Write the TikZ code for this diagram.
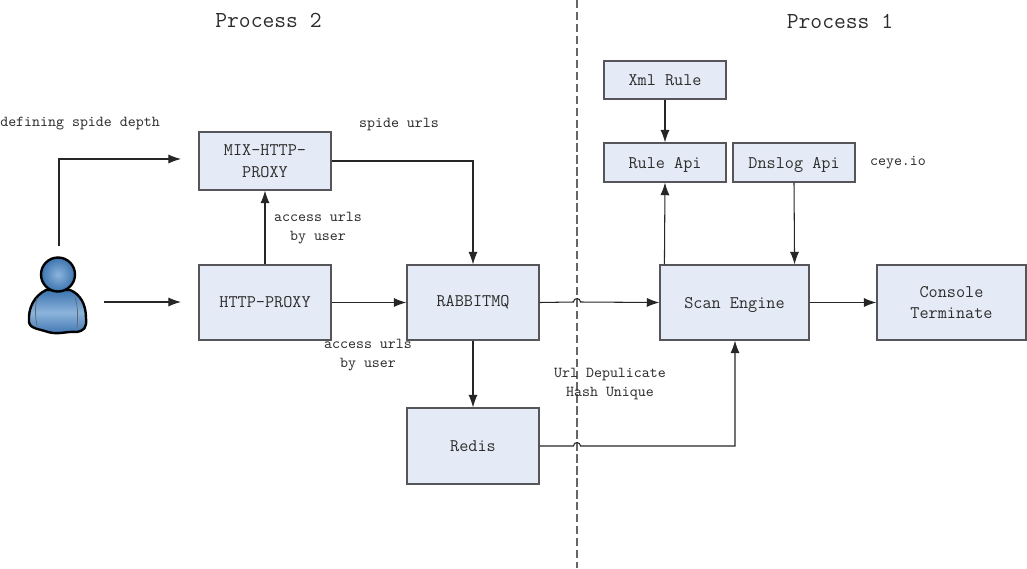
\documentclass[tikz,border=0pt]{standalone}
\usepackage{tikz}
\usetikzlibrary{arrows.meta,positioning,calc}
\definecolor{boxfill}{RGB}{229,235,246}
\definecolor{boxline}{RGB}{85,85,90}
\definecolor{txtgray}{RGB}{45,45,45}
\definecolor{userlight}{RGB}{140,180,220}
\definecolor{usermid}{RGB}{100,150,205}
\definecolor{userdark}{RGB}{60,115,175}
\tikzset{
  block/.style={draw=boxline,line width=0.8pt,fill=boxfill,inner sep=0pt,align=center,text=txtgray,font=\ttfamily\fontsize{12.6}{15.5}\selectfont},
  note/.style={align=center,text=txtgray,inner sep=0pt,font=\ttfamily\fontsize{10.8}{13.5}\selectfont},
  title/.style={text=txtgray,inner sep=0pt,font=\ttfamily\fontsize{16.3}{18}\selectfont},
  link/.style={-{Latex[length=9pt,width=6.5pt]},draw=black!85,line width=0.75pt}
}
\begin{document}
\begin{tikzpicture}[x=0.025cm,y=-0.025cm]
\useasboundingbox (0,0) rectangle (1027,568);
\coordinate (hop1) at (577,302);
\coordinate (hop2) at (577,446);
% divider
\coordinate (top) at (577,0);
\coordinate (bot) at (577,568);
\draw[draw=black!60,line width=0.9pt,dash pattern=on 6pt off 2.5pt] (top) -- (bot);
% boxes
\node[block,minimum width=3.3cm,minimum height=1.45cm] (mix) at (265,161) {MIX-HTTP-\\PROXY};
\node[block,minimum width=3.3cm,minimum height=1.875cm] (http) at (265,302.5) {HTTP-PROXY};
\node[block,minimum width=3.3cm,minimum height=1.875cm] (rabbit) at (473,302.5) {RABBITMQ};
\node[block,minimum width=3.3cm,minimum height=1.9cm] (redis) at (473,446) {Redis};
\node[block,text depth=0pt,minimum width=3.725cm,minimum height=1.875cm] (scan) at (734.5,302.5) {Scan Engine};
\node[block,minimum width=3.725cm,minimum height=1.875cm] (console) at (951.5,302.5) {Console\\Terminate};
\node[block,minimum width=3.05cm,minimum height=0.95cm] (xml) at (665,80) {Xml Rule};
\node[block,text depth=0pt,minimum width=3.05cm,minimum height=0.975cm] (rule) at (665,162.5) {Rule Api};
\node[block,text depth=0pt,minimum width=3.05cm,minimum height=0.975cm] (dnslog) at (794,162.5) {Dnslog Api};
% user
\begin{scope}[line join=round]
\draw[draw=black,line width=1.7pt,top color=userdark,bottom color=userdark,middle color=userlight]
  (46,290) .. controls (34,296) and (28,308) .. (29,322)
  .. controls (30,329) and (40,329) .. (48,332)
  .. controls (58,335) and (68,331) .. (76,332)
  .. controls (84,331) and (87,328) .. (86,318)
  .. controls (86,304) and (80,294) .. (70,290) -- cycle;
\draw[draw=black!60,line width=0.5pt] (37,298) .. controls (35,306) and (35,316) .. (37,326);
\draw[draw=black!60,line width=0.5pt] (75,298) .. controls (78,306) and (78,316) .. (77,328);
\draw[draw=black,line width=1.7pt,inner color=userlight,outer color=userdark] (58,274.5) circle[radius=17];
\end{scope}
\coordinate (userup) at (59,246);
\coordinate (userright) at (104,302);
\coordinate (mixin) at (181,159);
\coordinate (httpin) at (181,302);
% connectors
\draw[link] (userup) |- (mixin);
\draw[link] (userright) -- (httpin);
\draw[link] (http.north) -- (mix.south);
\draw[link] (http.east) -- (rabbit.west);
\draw[link] (mix.east) -| (rabbit.north);
\draw[link] (rabbit.south) -- (redis.north);
\draw[link] (rabbit.east) -- ($(hop1)+(-3.5,0)$) arc[start angle=180,end angle=360,radius=3.5] -- (scan.west);
\draw[link] (redis.east) -- ($(hop2)+(-3.5,0)$) arc[start angle=180,end angle=360,radius=3.5] -| ($(scan.south)+(0.5,0)$);
\draw[link] (scan.east) -- (console.west);
\draw[link] ($(scan.north west)+(5,0)$) -- (rule.south);
\draw[link] (xml.south) -- (rule.north);
\draw[link] (dnslog.south) -- ($(scan.north east)+(-15,0)$);
% labels
\node[title] (p2) at (268.5,20) {Process 2};
\node[title] (p1) at (840,21) {Process 1};
\node[note,anchor=west] (depth) at (0,124) {defining spide depth};
\node[note] (spide) at (399,125) {spide urls};
\node[note] (by1) at (318,228) {access urls\\by user};
\node[note] (by2) at (368,355) {access urls\\by user};
\node[note] (dedup) at (610,384.5) {Url Depulicate\\Hash Unique};
\node[note] (ceye) at (898,163) {ceye.io};
\end{tikzpicture}
\end{document}
